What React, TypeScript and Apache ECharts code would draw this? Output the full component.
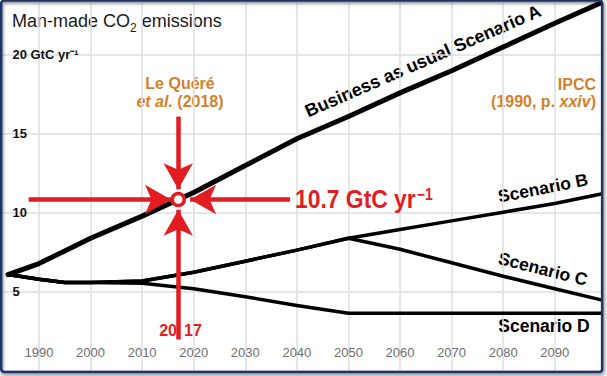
import React, { useEffect, useRef } from "react";
import * as echarts from "echarts";

// ---- data ----
const years = [1984, 1990, 1995, 2000, 2010, 2020, 2030, 2040, 2050, 2060, 2070, 2080, 2090, 2099];
const scenarioA = [6.1, 6.8, 7.6, 8.4, 9.8, 11.3, 13.0, 14.7, 16.1, 17.6, 19.0, 20.5, 22.0, 23.3];
const scenarioB = [6.1, 5.8, 5.6, 5.6, 5.7, 6.25, 6.95, 7.65, 8.4, 8.95, 9.5, 10.05, 10.6, 11.2];
const scenarioC = [6.1, 5.8, 5.6, 5.6, 5.7, 6.25, 6.95, 7.65, 8.4, 7.7, 6.85, 6.0, 5.2, 4.5];
const scenarioD = [6.1, 5.8, 5.6, 5.6, 5.55, 5.2, 4.7, 4.15, 3.65, 3.65, 3.65, 3.65, 3.65, 3.65];

const xTickLabels = [1990, 2000, 2010, 2020, 2030, 2040, 2050, 2060, 2070, 2080, 2090];
const yTickLabels = [5, 10, 15, 20];

const annotYear = 2017;
const annotValue = 10.85; // position of the marked point on the chart
const annotLabel = "10.7 GtC yr";

// arrows [from, to] in data coordinates
const arrowLeft = [[1988, annotValue], [2015.6, annotValue]];
const arrowRight = [[2038.7, annotValue], [2019.3, annotValue]];
const arrowTop = [[annotYear, 16.1], [annotYear, 11.5]];
const arrowBottom = [[annotYear, 2.0], [annotYear, 10.2]];

const RED = "#e11d22";
const ORANGE = "#d47f2c";
const FONT = "'Liberation Sans', Arial, sans-serif";

function zip(xs: number[], ys: number[]) {
  return xs.map((x, i) => [x, ys[i]]);
}

export default function App() {
  const ref = useRef<HTMLDivElement>(null);
  useEffect(() => {
    document.body.style.margin = "0";
    const chart = echarts.init(ref.current!, null, { renderer: "svg" });
    const lineSeries = (name: string, data: number[], width: number) => ({
      name,
      type: "line",
      data: zip(years, data),
      showSymbol: false,
      symbol: "none",
      lineStyle: { color: "#000", width, cap: "round", join: "round" },
      silent: true,
      z: 3,
    });
    const arrow = (a: number[][]) => [
      { coord: a[0] },
      { coord: a[1] },
    ];
    const scen = (text: string, x: number, y: number, deg: number) => ({
      type: "text",
      x,
      y,
      rotation: (deg * Math.PI) / 180,
      style: { text, fontSize: 17.5, fontWeight: "bold", fontFamily: FONT, fill: "#000", align: "center", verticalAlign: "middle" },
    });
    chart.setOption({
      animation: false,
      backgroundColor: "#ffffff",
      grid: { left: -12.6, right: 0.7, top: 2, bottom: 5, containLabel: false, outerBoundsMode: "none" },
      xAxis: {
        type: "value",
        min: 1980,
        max: 2100,
        interval: 10,
        axisLine: { show: false },
        axisTick: { show: false },
        axisLabel: {
          inside: true,
          margin: 12,
          color: "#6e6e6e",
          fontSize: 13,
          fontFamily: FONT,
          formatter: (v: number) => (xTickLabels.includes(v) ? String(v) : ""),
        },
        splitLine: { show: true, lineStyle: { color: "#dcdce6", width: 1.5 } },
      },
      yAxis: {
        type: "value",
        min: 0,
        max: 23.35,
        interval: 5,
        axisLine: { show: false },
        axisTick: { show: false },
        axisLabel: {
          inside: true,
          margin: 25,
          color: "#111",
          fontSize: 13,
          fontWeight: "bold",
          fontFamily: FONT,
          formatter: (v: number) =>
            v === 20 ? "20 GtC yr⁻¹" : yTickLabels.includes(v) ? String(v) : "",
        },
        splitLine: { show: true, lineStyle: { color: "#dcdce6", width: 1.5 } },
      },
      series: [
        lineSeries("Scenario D", scenarioD, 3.5),
        lineSeries("Scenario C", scenarioC, 3.5),
        lineSeries("Scenario B", scenarioB, 3.5),
        lineSeries("Business as usual Scenario A", scenarioA, 5),
        {
          name: "annotation",
          type: "line",
          data: [],
          silent: true,
          z: 5,
          markLine: {
            silent: true,
            symbol: ["none", "arrow"],
            symbolSize: [22, 26],
            label: { show: false },
            lineStyle: { color: RED, width: 4.5, type: "solid" },
            data: [arrow(arrowLeft), arrow(arrowRight), arrow(arrowTop), arrow(arrowBottom)],
          },
          markPoint: {
            silent: true,
            symbol: "circle",
            symbolSize: 12,
            label: { show: false },
            itemStyle: { color: "#ffffff", borderColor: RED, borderWidth: 3.5 },
            data: [{ coord: [annotYear, annotValue] }],
          },
        },
      ],
      graphic: [
        {
          type: "text",
          left: 12,
          top: 12,
          style: {
            text: "{a|Man-made CO}{s|2}{a| emissions}",
            rich: {
              a: { fontSize: 18, fontFamily: FONT, fill: "#1a1a1a" },
              s: { fontSize: 12, fontFamily: FONT, fill: "#1a1a1a", verticalAlign: "bottom", padding: [0, 0, -4, 0] },
            },
          },
        },
        {
          type: "text",
          x: 180,
          y: 83,
          style: { text: "Le Quéré", fontSize: 16, fontWeight: "bold", fontFamily: FONT, fill: ORANGE, align: "center", verticalAlign: "middle" },
        },
        {
          type: "text",
          x: 180,
          y: 101,
          style: {
            text: "{i|et al.}{n| (2018)}",
            align: "center",
            verticalAlign: "middle",
            rich: {
              i: { fontSize: 16, fontWeight: "bold", fontStyle: "italic", fontFamily: FONT, fill: ORANGE },
              n: { fontSize: 16, fontWeight: "bold", fontFamily: FONT, fill: ORANGE },
            },
          },
        },
        {
          type: "text",
          x: 596,
          y: 84,
          style: { text: "IPCC", fontSize: 16, fontWeight: "bold", fontFamily: FONT, fill: ORANGE, align: "right", verticalAlign: "middle" },
        },
        {
          type: "text",
          x: 596,
          y: 101,
          style: {
            text: "{n|(1990, p. }{i|xxiv}{n|)}",
            align: "right",
            verticalAlign: "middle",
            rich: {
              i: { fontSize: 16, fontWeight: "bold", fontStyle: "italic", fontFamily: FONT, fill: ORANGE },
              n: { fontSize: 16, fontWeight: "bold", fontFamily: FONT, fill: ORANGE },
            },
          },
        },
        {
          type: "text",
          x: 295,
          y: 199,
          z: 10,
          scaleX: 0.88,
          style: {
            text: "{a|" + annotLabel + "}{s|−1}",
            align: "left",
            verticalAlign: "middle",
            rich: {
              a: { fontSize: 26, fontWeight: "bold", fontFamily: FONT, fill: RED },
              s: { fontSize: 16, fontWeight: "bold", fontFamily: FONT, fill: RED, verticalAlign: "top", padding: [0, 0, 8, 1] },
            },
          },
        },
        {
          type: "text",
          x: 177,
          y: 330,
          z: 10,
          style: { text: "20", fontSize: 16, fontWeight: "bold", fontFamily: FONT, fill: RED, align: "right", verticalAlign: "middle" },
        },
        {
          type: "text",
          x: 184,
          y: 330,
          z: 10,
          style: { text: "17", fontSize: 16, fontWeight: "bold", fontFamily: FONT, fill: RED, align: "left", verticalAlign: "middle" },
        },
        {
          type: "text",
          x: 423,
          y: 61,
          rotation: (23.5 * Math.PI) / 180,
          style: { text: "Business as usual Scenario A", fontSize: 18, fontWeight: "bold", fontFamily: FONT, fill: "#000", align: "center", verticalAlign: "middle" },
        },
        scen("Scenario B", 543, 188, 11),
        scen("Scenario C", 543, 269, -14),
        scen("Scenario D", 544, 326, 0),
        {
          type: "rect",
          z: 20,
          shape: { x: 603, y: 0, width: 4, height: 376 },
          style: { fill: "#f2f2f2" },
        },
        {
          type: "rect",
          z: 20,
          shape: { x: 0, y: 373, width: 607, height: 3 },
          style: { fill: "#f2f2f2" },
        },
        {
          type: "rect",
          z: 21,
          shape: { x: 1.2, y: 0.5, width: 601, height: 371.5, r: 3 },
          style: {
            fill: "none",
            stroke: "#1d3466",
            lineWidth: 2.5,
            shadowBlur: 3,
            shadowOffsetX: 1,
            shadowOffsetY: 2,
            shadowColor: "rgba(0,0,0,0.45)",
          },
        },
      ],
    });
    return () => chart.dispose();
  }, []);
  return (
    <div
      ref={ref}
      style={{ position: "fixed", left: 0, top: 0, width: 607, height: 376 }}
    />
  );
}
